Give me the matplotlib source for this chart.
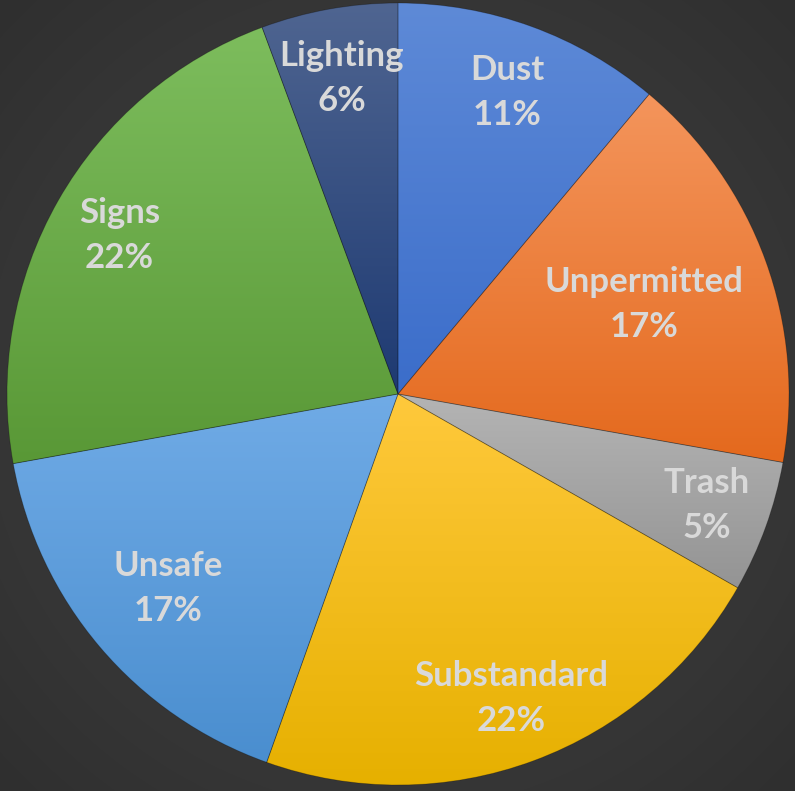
import numpy as np
import matplotlib.pyplot as plt
from matplotlib.colors import LinearSegmentedColormap

labels = ["Dust", "Unpermitted", "Trash", "Substandard", "Unsafe", "Signs", "Lighting"]
values = [11.1, 16.7, 5.45, 22.2, 16.7, 22.2, 5.65]
top_colors = ["#5e8ad7", "#f4955c", "#b4b4b4", "#ffc93c", "#70abe6", "#7dbd5d", "#4f6591"]
bottom_colors = ["#3b6dca", "#e4691d", "#949494", "#e6b000", "#4a8ecf", "#599836", "#1e3a72"]
label_dist = [0.82, 0.67, 0.84, 0.83, 0.77, 0.82, 0.82]

W, H = 795, 791
fig = plt.figure(figsize=(W / 100, H / 100), dpi=100)
ax = fig.add_axes([0, 0, 1, 1])

# radial background
yy, xx = np.mgrid[0:H, 0:W]
d = np.hypot(xx - W / 2, yy - H / 2) / np.hypot(W / 2, H / 2)
bg = LinearSegmentedColormap.from_list("bg", ["#464646", "#2f2f2f"])
ax.imshow(d, cmap=bg, extent=(0, W, 0, H), origin="lower", zorder=0, vmin=0, vmax=1)

cx, cy, R = 398, H - 394, 391
wedges, _ = ax.pie(values, startangle=90, counterclock=False, center=(cx, cy),
                   radius=R, frame=True,
                   wedgeprops=dict(linewidth=0.6, edgecolor=(0, 0, 0, 0.25)))
ax.set_xlim(0, W)
ax.set_ylim(0, H)
ax.set_aspect("equal")
ax.axis("off")

grad = np.linspace(0, 1, 256).reshape(-1, 1)
for w, c1, c2, lab, v, f in zip(wedges, top_colors, bottom_colors, labels, values, label_dist):
    w.set_facecolor("none")
    w.set_zorder(3)
    ext = w.get_path().get_extents()
    cm = LinearSegmentedColormap.from_list("g", [c2, c1])
    im = ax.imshow(grad, cmap=cm, extent=(ext.x0, ext.x1, ext.y0, ext.y1),
                   origin="lower", aspect="auto", zorder=2)
    im.set_clip_path(w)
    th = np.deg2rad((w.theta1 + w.theta2) / 2)
    ax.text(cx + f * R * np.cos(th), cy + f * R * np.sin(th), f"{lab}\n{v:.0f}%",
            ha="center", va="center", color="#d9d9d9", fontsize=25,
            fontweight="bold", family=["Lato", "DejaVu Sans"], linespacing=1.5, zorder=4)

fig.savefig("out.png", dpi=100)
